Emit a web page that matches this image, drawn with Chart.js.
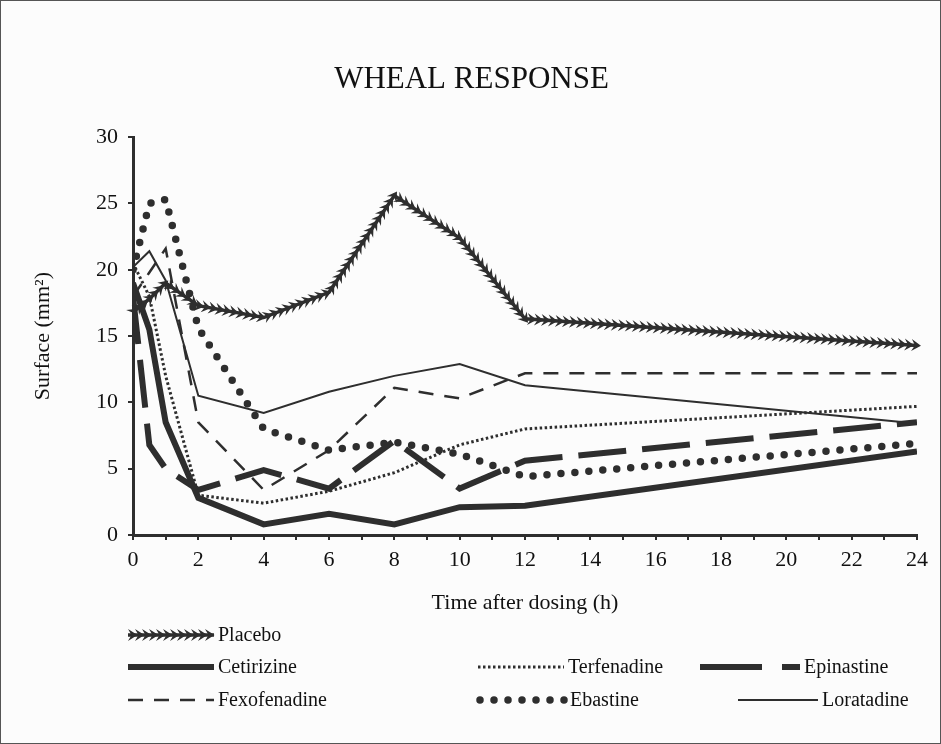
<!DOCTYPE html>
<html>
<head>
<meta charset="utf-8">
<script src="https://cdn.jsdelivr.net/npm/chart.js@4"></script>
<style>
  html, body { margin: 0; padding: 0; background: #fff; }
  #wrap { width: 941px; height: 744px; }
</style>
</head>
<body>
<div id="wrap"><canvas id="wheal" width="941" height="744"></canvas></div>
<script>
// time points (h) and surface values (mm2)
const hours = [0, 0.5, 1, 2, 4, 6, 8, 10, 12, 24];
const placebo      = [16.8, 17.8, 19.0, 17.3, 16.4, 18.3, 25.6, 22.4, 16.3, 14.3];
const cetirizine   = [19.0, 15.5, 8.5, 2.8, 0.8, 1.6, 0.8, 2.1, 2.2, 6.3];
const terfenadine  = [20.5, 18.0, 12.0, 3.0, 2.4, 3.3, 4.7, 6.8, 8.0, 9.7];
const epinastine   = [18.0, 6.8, 5.0, 3.4, 4.9, 3.5, 7.1, 3.5, 5.6, 8.5];
const fexofenadine = [18.0, 19.8, 21.6, 8.5, 3.4, 6.4, 11.1, 10.3, 12.2, 12.2];
const ebastine     = [20.0, 25.0, 25.3, 15.6, 8.0, 6.4, 7.0, 6.1, 4.4, 6.9];
const loratadine   = [20.2, 21.4, 19.2, 10.5, 9.2, 10.8, 12.0, 12.9, 11.3, 8.4];

const xTicks = [0, 2, 4, 6, 8, 10, 12, 14, 16, 18, 20, 22, 24];
const yTicks = [0, 5, 10, 15, 20, 25, 30];

const INK = "#2e2e2e";
const FONT = "'Liberation Serif', 'Times New Roman', serif";

function pts(vals) {
    return hours.map((h, i) => ({x: h, y: vals[i]}));
}

function chevron(c, cx, cy, ux, uy) {
    c.beginPath();
    c.moveTo(cx + ux*5.5, cy + uy*5.5);
    c.lineTo(cx - ux*4 - uy*6, cy - uy*4 + ux*6);
    c.lineTo(cx - ux*0.5, cy - uy*0.5);
    c.lineTo(cx - ux*4 + uy*6, cy - uy*4 - ux*6);
    c.closePath();
    c.fill();
}

// page background and frame
const framePlugin = {
    id: "frame",
    beforeDraw(chart) {
        const c = chart.ctx;
        c.save();
        c.fillStyle = "#fcfcfc";
        c.fillRect(0, 0, chart.width, chart.height);
        c.strokeStyle = "#555";
        c.lineWidth = 1;
        c.strokeRect(0.5, 0.5, chart.width - 1, chart.height - 1);
        c.restore();
    }
};

// arrowhead chain along the placebo line
const chevronPlugin = {
    id: "chevrons",
    afterDatasetsDraw(chart) {
        const c = chart.ctx;
        const area = chart.chartArea;
        chart.data.datasets.forEach((ds, di) => {
            if (!ds.chevrons) return;
            const p = chart.getDatasetMeta(di).data;
            c.save();
            c.beginPath();
            c.rect(area.left - 10, area.top - 10, area.right - area.left + 20, area.bottom - area.top + 20);
            c.clip();
            c.fillStyle = INK;
            let carry = 0;
            const step = 7;
            for (let i = 0; i < p.length - 1; i++) {
                const dx = p[i+1].x - p[i].x, dy = p[i+1].y - p[i].y;
                const len = Math.sqrt(dx*dx + dy*dy);
                const ux = dx/len, uy = dy/len;
                let d = carry;
                while (d < len) {
                    chevron(c, p[i].x + ux*d, p[i].y + uy*d, ux, uy);
                    d += step;
                }
                carry = d - len;
            }
            c.restore();
        });
    }
};

// legend laid out in rows/columns under the plot
const legendPlugin = {
    id: "gridLegend",
    afterDraw(chart) {
        const c = chart.ctx;
        const slots = [[128, 635], [128, 667], [478, 667], [700, 667], [128, 700], [480, 700], [738, 700]];
        chart.data.datasets.forEach((ds, i) => {
            const [x, y] = slots[i];
            const w = ds.legendWidth || 86;
            c.save();
            c.strokeStyle = INK;
            c.lineWidth = ds.borderWidth;
            c.lineCap = ds.borderCapStyle || "butt";
            c.setLineDash(ds.legendDash || ds.borderDash || []);
            c.beginPath();
            c.moveTo(x, y);
            c.lineTo(x + w, y);
            c.stroke();
            c.restore();
            if (ds.chevrons) {
                c.save();
                c.fillStyle = INK;
                for (let d = 4; d < w - 2; d += 7) chevron(c, x + d, y, 1, 0);
                c.restore();
            }
            c.save();
            c.fillStyle = "#111";
            c.font = "20px " + FONT;
            c.textBaseline = "middle";
            c.fillText(ds.label, x + w + 4, y + 1);
            c.restore();
        });
    }
};

new Chart("wheal", {
    type: "line",
    data: {
        datasets: [
            {label: "Placebo", data: pts(placebo), borderColor: INK, borderWidth: 3.5, chevrons: true},
            {label: "Cetirizine", data: pts(cetirizine), borderColor: INK, borderWidth: 6},
            {label: "Terfenadine", data: pts(terfenadine), borderColor: INK, borderWidth: 3, borderDash: [2.5, 2.5]},
            {label: "Epinastine", data: pts(epinastine), borderColor: INK, borderWidth: 6, borderDash: [48, 16], legendDash: [62, 20, 18, 100], legendWidth: 100},
            {label: "Fexofenadine", data: pts(fexofenadine), borderColor: INK, borderWidth: 2.5, borderDash: [15, 11]},
            {label: "Ebastine", data: pts(ebastine), borderColor: INK, borderWidth: 7.5, borderDash: [0, 14], borderCapStyle: "round"},
            {label: "Loratadine", data: pts(loratadine), borderColor: INK, borderWidth: 2, legendWidth: 80}
        ]
    },
    options: {
        responsive: false,
        animation: false,
        elements: {
            point: {radius: 0},
            line: {tension: 0, fill: false}
        },
        layout: {padding: {left: 26, right: 24, top: 0, bottom: 124}},
        plugins: {
            legend: {display: false},
            tooltip: {enabled: false},
            title: {
                display: true,
                text: "WHEAL RESPONSE",
                color: "#111",
                font: {family: FONT, size: 31, weight: "normal"},
                padding: {top: 61, bottom: 39}
            }
        },
        scales: {
            x: {
                type: "linear",
                min: 0,
                max: 24,
                afterBuildTicks(scale) {
                    scale.ticks = [];
                    for (let h = 0; h <= 24; h++) scale.ticks.push({value: h});
                },
                ticks: {
                    autoSkip: false,
                    maxRotation: 0,
                    padding: 7,
                    color: "#111",
                    font: {family: FONT, size: 22},
                    callback: v => xTicks.includes(v) ? String(v) : ""
                },
                grid: {display: true, drawOnChartArea: false, drawTicks: true, tickLength: 5, color: INK, lineWidth: 2},
                border: {display: true, color: INK, width: 3},
                title: {
                    display: true,
                    text: "Time after dosing (h)",
                    color: "#111",
                    font: {family: FONT, size: 22},
                    padding: {top: 13}
                },
                afterFit(scale) { scale.height = 85; }
            },
            y: {
                type: "linear",
                min: 0,
                max: 30,
                afterBuildTicks(scale) {
                    scale.ticks = yTicks.map(v => ({value: v}));
                },
                ticks: {
                    padding: 10,
                    color: "#111",
                    font: {family: FONT, size: 22}
                },
                grid: {display: true, drawOnChartArea: false, drawTicks: true, tickLength: 5, color: INK, lineWidth: 2},
                border: {display: true, color: INK, width: 3},
                title: {
                    display: true,
                    text: "Surface (mm\u00B2)",
                    color: "#111",
                    font: {family: FONT, size: 22},
                    padding: {bottom: 8}
                },
                afterFit(scale) { scale.width = 107; }
            }
        }
    },
    plugins: [framePlugin, chevronPlugin, legendPlugin]
});
</script>
</body>
</html>
